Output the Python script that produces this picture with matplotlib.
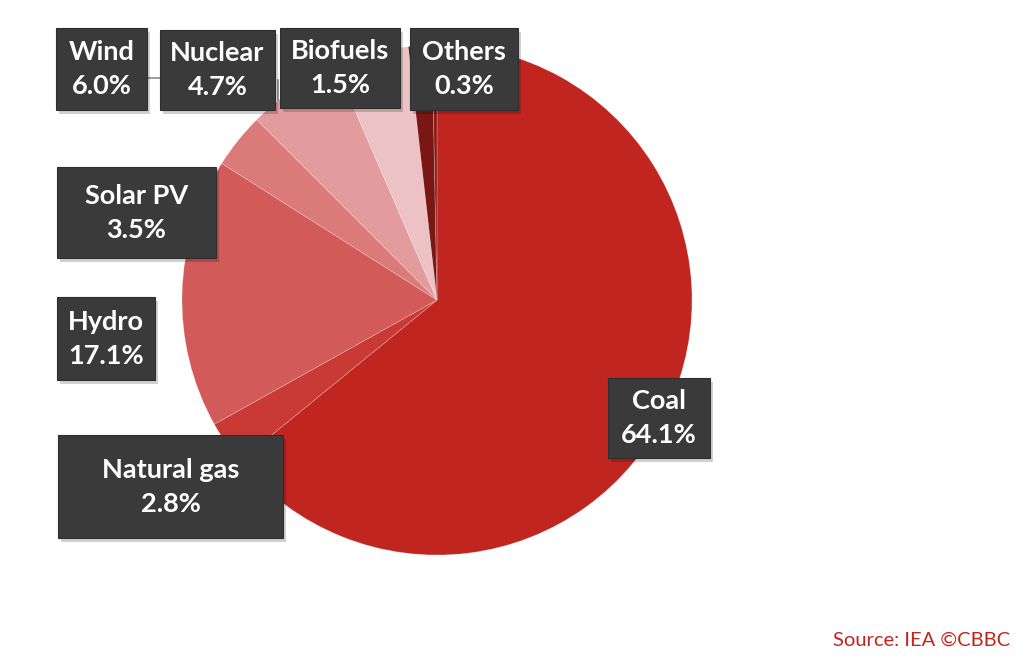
import matplotlib
matplotlib.use("Agg")
import matplotlib.pyplot as plt
from matplotlib.patches import Rectangle

categories = ["Coal", "Natural gas", "Hydro", "Solar PV", "Wind", "Nuclear", "Biofuels", "Others"]
shares = [64.1, 2.8, 17.1, 3.5, 6.0, 4.7, 1.5, 0.3]
colors = ["#c0251f", "#c93a35", "#d25a59", "#da7a79", "#e29c9e", "#ecc2c4", "#7a1614", "#8a1a17"]
source_text = "Source: IEA ©CBBC"

# label box layout in pixel coords (x0, y0, x1, y1), top-left origin
boxes = {
    "Wind": (56, 28, 147, 110),
    "Nuclear": (160, 30, 275, 110),
    "Biofuels": (280, 28, 400, 108),
    "Others": (410, 28, 518, 110),
    "Solar PV": (57, 167, 216, 258),
    "Hydro": (57, 297, 155, 380),
    "Natural gas": (58, 435, 283, 538),
    "Coal": (608, 378, 710, 458),
}

W, H = 1024, 660
fig = plt.figure(figsize=(W / 100, H / 100), dpi=100)
ax = fig.add_axes([0, 0, 1, 1])

cx, cy, r = 437, 300, 255
ax.pie(shares, colors=colors, startangle=90, counterclock=False,
       center=(cx, H - cy), radius=r, frame=True,
       wedgeprops=dict(edgecolor=(1, 1, 1, 0.3), linewidth=0.5))

# leader line fragments
ax.plot([147, 160], [H - 78, H - 78], color="#8a8a8a", lw=1.2, zorder=2)
ax.plot([278, 278], [H - 80, H - 100], color="#8a8a8a", lw=1.2, zorder=2)

for name, val in zip(categories, shares):
    x0, y0, x1, y1 = boxes[name]
    # shadow
    ax.add_patch(Rectangle((x0 + 3, H - y1 - 4), x1 - x0, y1 - y0,
                           facecolor="#000000", alpha=0.18, lw=0, zorder=3))
    ax.add_patch(Rectangle((x0, H - y1), x1 - x0, y1 - y0,
                           facecolor="#3a3a3a", edgecolor="#2e2e2e", lw=0.8, zorder=4))
    xc = (x0 + x1) / 2
    yc = H - (y0 + y1) / 2
    ax.text(xc, yc, f"{name}\n{val:.1f}%", ha="center", va="center",
            color="white", fontsize=19.5, fontweight="bold", family="Lato",
            linespacing=1.5, zorder=5)

ax.text(1010, H - 640, source_text, ha="right", va="center",
        color="#c0251f", fontsize=14.5, family="Lato")

ax.set_xlim(0, W)
ax.set_ylim(0, H)
ax.set_aspect("equal")
ax.axis("off")

fig.savefig("out.png", dpi=100, facecolor="white")
